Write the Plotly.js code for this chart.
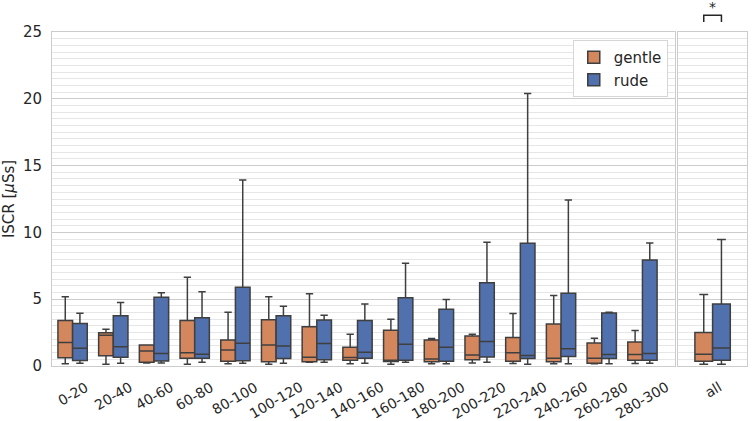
<!DOCTYPE html>
<html>
<head>
<meta charset="utf-8">
<script src="https://cdn.plot.ly/plotly-3.0.1.min.js"></script>
<style>
  html, body { margin: 0; padding: 0; background: #fff; }
  #plot { width: 754px; height: 421px; }
</style>
</head>
<body>
<div id="plot"></div>
<script>
// time bins (main panel)
var bins = ['0-20', '20-40', '40-60', '60-80', '80-100', '100-120', '120-140', '140-160',
            '160-180', '180-200', '200-220', '220-240', '240-260', '260-280', '280-300'];

// gentle: whisker low, q1, median, q3, whisker high
var gentleLow = [0.16, 0.13, 0.22, 0.13, 0.16, 0.13, 0.28, 0.16, 0.13, 0.16, 0.22, 0.18, 0.16, 0.16, 0.18];
var gentleQ1  = [0.61, 0.76, 0.28, 0.58, 0.36, 0.31, 0.31, 0.43, 0.33, 0.31, 0.46, 0.36, 0.31, 0.20, 0.43];
var gentleMed = [1.75, 2.30, 1.13, 1.00, 1.20, 1.58, 0.66, 0.63, 0.43, 0.53, 0.83, 1.00, 0.58, 0.58, 0.86];
var gentleQ3  = [3.40, 2.48, 1.58, 3.40, 1.95, 3.47, 2.93, 1.41, 2.68, 1.95, 2.25, 2.13, 3.15, 1.73, 1.80];
var gentleHigh = [5.19, 2.75, 1.58, 6.65, 4.02, 5.19, 5.40, 2.38, 3.50, 2.05, 2.38, 3.93, 5.27, 2.08, 2.65];

// rude
var rudeLow = [0.20, 0.20, 0.22, 0.28, 0.20, 0.20, 0.28, 0.20, 0.28, 0.16, 0.28, 0.13, 0.16, 0.16, 0.20];
var rudeQ1  = [0.41, 0.66, 0.38, 0.58, 0.39, 0.56, 0.46, 0.58, 0.43, 0.36, 0.68, 0.56, 0.71, 0.56, 0.43];
var rudeMed = [1.33, 1.45, 0.93, 0.88, 1.70, 1.50, 1.68, 1.03, 1.63, 1.41, 1.83, 0.78, 1.30, 0.86, 0.93];
var rudeQ3  = [3.18, 3.77, 5.15, 3.62, 5.90, 3.77, 3.45, 3.40, 5.10, 4.25, 6.24, 9.19, 5.45, 3.97, 7.94];
var rudeHigh = [3.95, 4.75, 5.49, 5.55, 13.92, 4.47, 3.80, 4.65, 7.69, 4.97, 9.27, 20.39, 12.43, 4.02, 9.21];

// pooled panel
var allCat = ['all'];
var gentleAll = [0.13, 0.36, 0.88, 2.50, 5.35];
var rudeAll = [0.13, 0.43, 1.35, 4.65, 9.46];

var orange = '#d4875c';
var blue = '#5071ad';
var edge = '#3f3f3f';

function boxTrace(name, x, low, q1, med, q3, high, color, xa, ya, legend, align) {
  return {
    type: 'box',
    name: name,
    x: x,
    lowerfence: low,
    q1: q1,
    median: med,
    q3: q3,
    upperfence: high,
    fillcolor: color,
    line: {color: edge, width: 1.5},
    whiskerwidth: 0.5,
    xaxis: xa,
    yaxis: ya,
    alignmentgroup: align,
    offsetgroup: name,
    showlegend: legend,
    hoverinfo: 'skip'
  };
}

var data = [
  boxTrace('gentle', bins, gentleLow, gentleQ1, gentleMed, gentleQ3, gentleHigh, orange, 'x', 'y', true, 'main'),
  boxTrace('rude', bins, rudeLow, rudeQ1, rudeMed, rudeQ3, rudeHigh, blue, 'x', 'y', true, 'main'),
  boxTrace('gentle', allCat, [gentleAll[0]], [gentleAll[1]], [gentleAll[2]], [gentleAll[3]], [gentleAll[4]], orange, 'x2', 'y2', false, 'side'),
  boxTrace('rude', allCat, [rudeAll[0]], [rudeAll[1]], [rudeAll[2]], [rudeAll[3]], [rudeAll[4]], blue, 'x2', 'y2', false, 'side')
];

var grid = '#cccccc';
var minorGrid = '#e6e6e6';

var yCommon = {
  range: [0, 25],
  dtick: 5,
  showgrid: true,
  gridcolor: grid,
  gridwidth: 1,
  minor: {dtick: 0.5, showgrid: true, gridcolor: minorGrid, gridwidth: 1},
  zeroline: false,
  showline: true,
  mirror: true,
  linecolor: grid,
  linewidth: 1,
  ticks: ''
};

// rotated tick labels centred on their category (matplotlib ha="center" style)
function tickLabel(text, xref) {
  return {
    text: text, xref: xref, yref: 'paper', x: text, y: -0.03,
    xanchor: 'center', yanchor: 'top', textangle: -30,
    showarrow: false, font: {size: 14, color: '#262626'}
  };
}
var labels = bins.map(function (b) { return tickLabel(b, 'x'); });
labels.push(tickLabel(allCat[0], 'x2'));

var layout = {
  width: 754,
  height: 421,
  margin: {l: 52, r: 7, t: 32, b: 55},
  paper_bgcolor: '#ffffff',
  plot_bgcolor: '#ffffff',
  font: {family: 'DejaVu Sans, sans-serif', size: 14, color: '#262626'},
  boxmode: 'group',
  boxgap: 0.28,
  boxgroupgap: 0,
  xaxis: {
    domain: [0, 0.896],
    type: 'category',
    showticklabels: false,
    showgrid: false,
    showline: true,
    mirror: true,
    linecolor: grid,
    ticks: ''
  },
  xaxis2: {
    domain: [0.901, 1],
    type: 'category',
    range: [-0.7, 0.7],
    showticklabels: false,
    showgrid: false,
    showline: true,
    mirror: true,
    linecolor: grid,
    ticks: '',
    anchor: 'y2'
  },
  yaxis: Object.assign({}, yCommon, {
    title: {text: 'ISCR [<i>μ</i>Ss]', font: {size: 15}, standoff: 10},
    tickfont: {size: 15},
    ticklabelstandoff: 6
  }),
  yaxis2: Object.assign({}, yCommon, {
    anchor: 'x2',
    matches: 'y',
    showticklabels: false
  }),
  legend: {
    x: 0.886, xanchor: 'right',
    y: 0.976, yanchor: 'top',
    bgcolor: 'rgba(255,255,255,0.9)',
    bordercolor: '#d6d6d6',
    borderwidth: 1,
    tracegroupgap: 0,
    font: {size: 15}
  },
  shapes: [
    {type: 'path', xref: 'x2', yref: 'paper',
     path: 'M -0.18 1.03 L -0.18 1.05 L 0.18 1.05 L 0.18 1.03',
     line: {color: '#262626', width: 1.5}}
  ],
  annotations: labels.concat([
    {text: '*', xref: 'x2', yref: 'paper', x: 0, y: 1.045, yanchor: 'bottom',
     showarrow: false, font: {size: 14, color: '#262626'}}
  ])
};

Plotly.newPlot('plot', data, layout, {displayModeBar: false, staticPlot: true});
</script>
</body>
</html>
